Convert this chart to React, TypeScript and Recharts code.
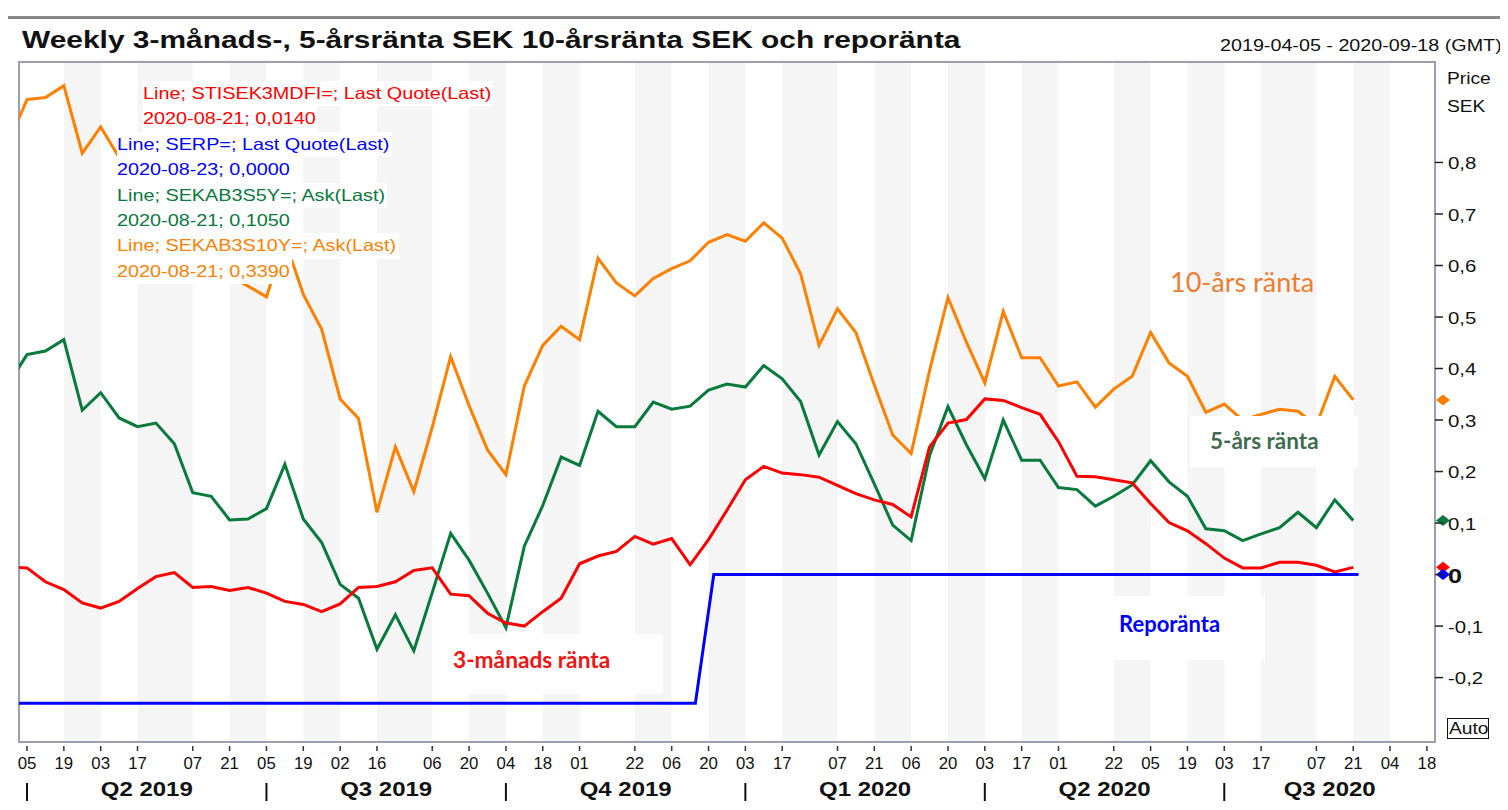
import React from 'react';
import { LineChart, Line, XAxis, YAxis, ReferenceArea, ReferenceDot } from 'recharts';

// weekly observations, first one is 2019-03-29 (week -1), week 0 = 2019-04-05
const firstWeek = -1;
const sundayShift = 2 / 7; // SERP quotes are dated on Sundays

const rate3m = [
  0.015, 0.013, -0.014, -0.029, -0.055, -0.065, -0.052, -0.027, -0.004, 0.004,
  -0.025, -0.023, -0.031, -0.025, -0.036, -0.052, -0.058, -0.072, -0.057, -0.025,
  -0.023, -0.014, 0.008, 0.013, -0.038, -0.041, -0.075, -0.094, -0.1, -0.072,
  -0.046, 0.021, 0.036, 0.045, 0.074, 0.059, 0.07, 0.019, 0.068, 0.125,
  0.184, 0.21, 0.197, 0.194, 0.189, 0.173, 0.157, 0.145, 0.136, 0.112,
  0.248, 0.294, 0.301, 0.341, 0.338, 0.324, 0.311, 0.258, 0.191, 0.19,
  0.184, 0.178, 0.138, 0.101, 0.085, 0.06, 0.032, 0.013, 0.013, 0.024,
  0.024, 0.018, 0.005, 0.014,
];

const rate5y = [
  0.371, 0.427, 0.434, 0.456, 0.319, 0.353, 0.304, 0.287, 0.294, 0.254,
  0.159, 0.152, 0.106, 0.108, 0.128, 0.214, 0.108, 0.062, -0.019, -0.046,
  -0.145, -0.078, -0.148, -0.035, 0.08, 0.028, -0.036, -0.103, 0.055, 0.134,
  0.228, 0.212, 0.317, 0.287, 0.287, 0.335, 0.321, 0.327, 0.358, 0.37,
  0.364, 0.406, 0.38, 0.336, 0.232, 0.297, 0.254, 0.176, 0.096, 0.066,
  0.231, 0.326, 0.252, 0.186, 0.3, 0.222, 0.222, 0.169, 0.165, 0.133,
  0.152, 0.174, 0.221, 0.18, 0.152, 0.089, 0.085, 0.066, 0.079, 0.091,
  0.121, 0.091, 0.145, 0.105,
];

const rate10y = [
  0.84, 0.922, 0.926, 0.949, 0.818, 0.869, 0.81, 0.77, 0.79, 0.72,
  0.66, 0.63, 0.58, 0.56, 0.539, 0.65, 0.544, 0.476, 0.341, 0.303,
  0.121, 0.248, 0.161, 0.286, 0.423, 0.328, 0.242, 0.194, 0.366, 0.445,
  0.482, 0.456, 0.614, 0.566, 0.541, 0.575, 0.594, 0.609, 0.645, 0.66,
  0.647, 0.683, 0.653, 0.584, 0.445, 0.516, 0.47, 0.368, 0.271, 0.235,
  0.396, 0.538, 0.451, 0.372, 0.511, 0.421, 0.421, 0.366, 0.374, 0.325,
  0.36, 0.385, 0.47, 0.411, 0.385, 0.315, 0.331, 0.3, 0.311, 0.321,
  0.317, 0.29, 0.385, 0.339,
];

const repoRate = [
  -0.25, -0.25, -0.25, -0.25, -0.25, -0.25, -0.25, -0.25, -0.25, -0.25,
  -0.25, -0.25, -0.25, -0.25, -0.25, -0.25, -0.25, -0.25, -0.25, -0.25,
  -0.25, -0.25, -0.25, -0.25, -0.25, -0.25, -0.25, -0.25, -0.25, -0.25,
  -0.25, -0.25, -0.25, -0.25, -0.25, -0.25, -0.25, -0.25, 0, 0,
  0, 0, 0, 0, 0, 0, 0, 0, 0, 0,
  0, 0, 0, 0, 0, 0, 0, 0, 0, 0,
  0, 0, 0, 0, 0, 0, 0, 0, 0, 0,
  0, 0, 0, 0,
];

// x axis: week index of each labelled Friday, and its day label
const tickWeeks = [0, 2, 4, 6, 9, 11, 13, 15, 17, 19, 22, 24, 26, 28, 30, 33, 35, 37, 39, 41, 44, 46, 48, 50, 52, 54, 56, 59, 61, 63, 65, 67, 70, 72, 74, 76];
const tickDays = ['05', '19', '03', '17', '07', '21', '05', '19', '02', '16', '06', '20', '04', '18', '01', '22', '06', '20', '03', '17', '07', '21', '06', '20', '03', '17', '01', '22', '05', '19', '03', '17', '07', '21', '04', '18'];
const quarterStarts = [0, 13, 26, 39, 52, 65];
const quarterNames = ['Q2 2019', 'Q3 2019', 'Q4 2019', 'Q1 2020', 'Q2 2020', 'Q3 2020'];
const yTicks = [-0.2, -0.1, 0, 0.1, 0.2, 0.3, 0.4, 0.5, 0.6, 0.7, 0.8];

const xDomain: [number, number] = [-0.434, 76.44];
const yDomain: [number, number] = [-0.325, 0.995];

const C3M = '#ff0000';
const CREPO = '#0000ff';
const C5Y = '#077a3c';
const C10Y = '#ff8000';
const FRAME = '#9e9eb2';
const FONT = '"Liberation Sans", Arial, sans-serif';
const WIDE = 1.2; // the source renders its Arial text stretched sideways

const rows: any[] = [];
rate3m.forEach((v, k) => {
  const w = k + firstWeek;
  rows.push({ x: w, r3m: v, r5y: rate5y[k], r10y: rate10y[k] });
  rows.push({ x: w + sundayShift, repo: repoRate[k] });
});

const qMids = quarterStarts.map((s, i) => ((quarterStarts[i + 1] ?? xDomain[1]) + s) / 2);

const bands: [number, number][] = [];
for (let i = 1; i + 1 < tickWeeks.length; i += 2) bands.push([tickWeeks[i], tickWeeks[i + 1]]);

const DayTick = (props: any) => {
  const { x, y, payload } = props;
  const i = tickWeeks.indexOf(payload.value);
  return (
    <g>
      <line x1={x} x2={x} y1={y + 4} y2={y + 9} stroke="#333" strokeWidth={1.5} />
      <text transform={`translate(${x},${y + 21}) scale(1.05,1)`} textAnchor="middle" dominantBaseline="central" fontSize={16} fill="#111" fontFamily={FONT}>{tickDays[i]}</text>
    </g>
  );
};

const QuarterTick = (props: any) => {
  const { x, y, payload } = props;
  const s = quarterStarts.indexOf(payload.value);
  if (s >= 0) return <line x1={x} x2={x} y1={y + 11} y2={y + 29} stroke="#111" strokeWidth={2} />;
  const m = qMids.indexOf(payload.value);
  return (
    <text transform={`translate(${x},${y + 17}) scale(${WIDE},1)`} textAnchor="middle" dominantBaseline="central" fontSize={20} fontWeight="bold" fill="#111" fontFamily={FONT}>
      {quarterNames[m]}
    </text>
  );
};

const PriceTick = (props: any) => {
  const { x, y, payload } = props;
  const zero = payload.value === 0;
  return (
    <g>
      <line x1={x} x2={x + 8} y1={y} y2={y} stroke="#222" strokeWidth={1.5} />
      <text transform={`translate(${x + 13},${y + 1}) scale(${WIDE},1)`} dominantBaseline="central" fontSize={zero ? 21 : 17} fontWeight={zero ? 'bold' : 'normal'} fill="#111" fontFamily={FONT}>
        {String(payload.value).replace('.', ',')}
      </text>
    </g>
  );
};

const Diamond = (color: string) => (props: any) => {
  const { cx, cy } = props;
  const px = cx + 8;
  return <polygon points={`${px - 7},${cy} ${px},${cy - 5.5} ${px + 7},${cy} ${px},${cy + 5.5}`} fill={color} />;
};

const legendLines = [
  { text: 'Line; STISEK3MDFI=; Last Quote(Last)', color: C3M, indent: 26 },
  { text: '2020-08-21; 0,0140', color: C3M, indent: 26 },
  { text: 'Line; SERP=; Last Quote(Last)', color: CREPO, indent: 0 },
  { text: '2020-08-23; 0,0000', color: CREPO, indent: 0 },
  { text: 'Line; SEKAB3S5Y=; Ask(Last)', color: C5Y, indent: 0 },
  { text: '2020-08-21; 0,1050', color: C5Y, indent: 0 },
  { text: 'Line; SEKAB3S10Y=; Ask(Last)', color: C10Y, indent: 0 },
  { text: '2020-08-21; 0,3390', color: C10Y, indent: 0 },
];

const abs = (s: React.CSSProperties): React.CSSProperties => ({ position: 'absolute', ...s });
const wide = (k: number): React.CSSProperties => ({ transform: `scaleX(${k})`, transformOrigin: 'left center' });

export default function App() {
  return (
    <div style={{ position: 'relative', width: 1508, height: 810, margin: '-8px 0 0 -8px', background: '#fff', overflow: 'hidden', fontFamily: FONT }}>
      <LineChart width={1508} height={810} data={rows} margin={{ top: 62, left: 19, right: 0, bottom: 0 }}>
        {bands.map(([a, b], i) => (
          <ReferenceArea key={i} x1={a} x2={b} y1={yDomain[0]} y2={yDomain[1]} fill="#f5f5f5" fillOpacity={1} stroke="none" ifOverflow="hidden" />
        ))}
        <XAxis dataKey="x" type="number" domain={xDomain} allowDataOverflow ticks={tickWeeks} interval={0}
          tick={<DayTick />} tickSize={0} tickMargin={0} tickLine={false} axisLine={false} height={30} />
        <XAxis xAxisId="q" dataKey="x" type="number" domain={xDomain} allowDataOverflow
          ticks={[...quarterStarts, ...qMids].sort((a, b) => a - b)} interval={0}
          tick={<QuarterTick />} tickSize={0} tickMargin={0} tickLine={false} axisLine={false} height={38} />
        <YAxis orientation="right" type="number" domain={yDomain} allowDataOverflow ticks={yTicks} interval={0}
          tick={<PriceTick />} tickSize={0} tickMargin={0} tickLine={false} axisLine={false} width={73} />
        <Line dataKey="r10y" stroke={C10Y} strokeWidth={3} dot={false} connectNulls isAnimationActive={false} />
        <Line dataKey="r5y" stroke={C5Y} strokeWidth={3} dot={false} connectNulls isAnimationActive={false} />
        <Line dataKey="r3m" stroke={C3M} strokeWidth={3} dot={false} connectNulls isAnimationActive={false} />
        <Line dataKey="repo" stroke={CREPO} strokeWidth={3} dot={false} connectNulls isAnimationActive={false} />
        <ReferenceArea x1={xDomain[0]} x2={xDomain[1]} y1={yDomain[0]} y2={yDomain[1]} fill="none" stroke={FRAME} strokeWidth={2} ifOverflow="visible" />
        <ReferenceDot x={xDomain[1]} y={rate10y[rate10y.length - 1]} ifOverflow="visible" shape={Diamond(C10Y)} />
        <ReferenceDot x={xDomain[1]} y={rate5y[rate5y.length - 1]} ifOverflow="visible" shape={Diamond(C5Y)} />
        <ReferenceDot x={xDomain[1]} y={rate3m[rate3m.length - 1]} ifOverflow="visible" shape={Diamond(C3M)} />
        <ReferenceDot x={xDomain[1]} y={repoRate[repoRate.length - 1]} ifOverflow="visible" shape={Diamond(CREPO)} />
      </LineChart>

      {/* outer frame */}
      <div style={abs({ left: 3, top: 16, width: 1520, height: 820, borderLeft: '3px solid #888', borderTop: '3px solid #888' })} />

      <div style={abs({ left: 22, top: 26, fontSize: 24, fontWeight: 'bold', color: '#111', whiteSpace: 'nowrap', ...wide(1.246) })}>
        Weekly 3-månads-, 5-årsränta SEK 10-årsränta SEK och reporänta
      </div>
      <div style={abs({ left: 1220, top: 36, fontSize: 17, color: '#111', whiteSpace: 'nowrap', ...wide(1.16) })}>2019-04-05 - 2020-09-18 (GMT)</div>
      <div style={abs({ left: 1447, top: 65, fontSize: 16, color: '#111', lineHeight: '28px', ...wide(WIDE) })}>Price<br />SEK</div>
      <div style={abs({ left: 1447, top: 718, width: 42, height: 21, boxSizing: 'border-box', border: '1.5px solid #111', background: '#fff' })}>
        <div style={{ position: 'absolute', left: 1, top: 0, fontSize: 16, lineHeight: '19px', color: '#111', ...wide(WIDE) }}>Auto</div>
      </div>

      <div style={abs({ left: 117, top: 81 })}>
        {legendLines.map((l, i) => (
          <div key={i} style={{ marginLeft: l.indent, color: l.color, fontSize: 16.5, lineHeight: '25.4px', background: '#fff', width: 'fit-content', whiteSpace: 'nowrap', paddingRight: 2, ...wide(WIDE) }}>{l.text}</div>
        ))}
      </div>

      <div style={abs({ left: 1170, top: 265, fontSize: 27, color: '#ed7d31', fontFamily: 'Lato, sans-serif', whiteSpace: 'nowrap' })}>10-års ränta</div>
      <div style={abs({ left: 1190, top: 416, width: 168, height: 51, background: '#fff', fontSize: 22.5, fontWeight: 'bold', color: '#3f6b50', fontFamily: 'Lato, sans-serif' })}>
        <div style={{ position: 'absolute', left: 20, top: 11, whiteSpace: 'nowrap' }}>5-års ränta</div>
      </div>
      <div style={abs({ left: 1114, top: 596, width: 151, height: 64, background: '#fff', fontSize: 22, fontWeight: 'bold', color: CREPO, fontFamily: 'Lato, sans-serif' })}>
        <div style={{ position: 'absolute', left: 5, top: 14, whiteSpace: 'nowrap' }}>Reporänta</div>
      </div>
      <div style={abs({ left: 433, top: 634, width: 230, height: 60, background: '#fff', fontSize: 22.7, fontWeight: 'bold', color: '#f01414', fontFamily: 'Lato, sans-serif' })}>
        <div style={{ position: 'absolute', left: 20, top: 12, whiteSpace: 'nowrap' }}>3-månads ränta</div>
      </div>
    </div>
  );
}
